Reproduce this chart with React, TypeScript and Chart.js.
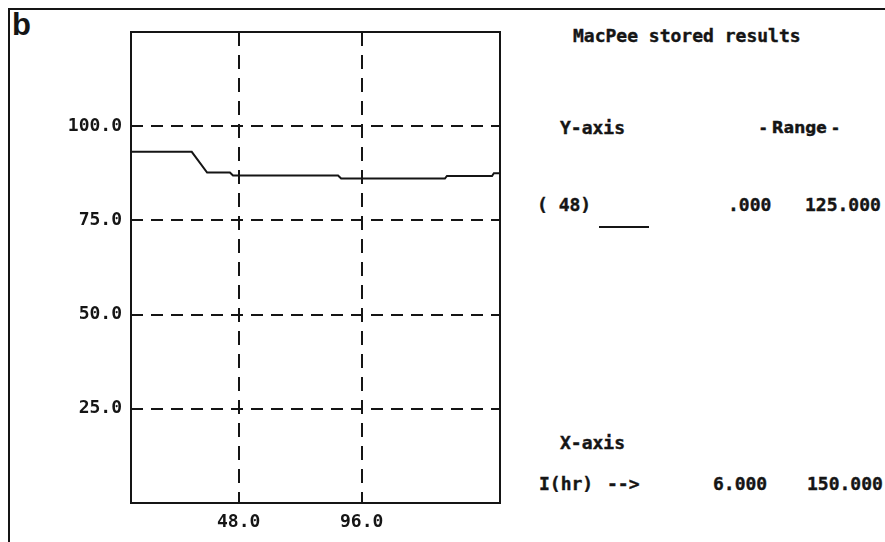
import React, { useEffect, useRef } from "react";
import { Chart, registerables } from "chart.js";

Chart.register(...registerables);

// ---- data ----
const hours = [6, 29.7, 35.7, 44.6, 45.8, 86.8, 88, 128.5, 129.3, 146.9, 147.6, 150];
const values = [93.2, 93.2, 87.7, 87.7, 86.9, 86.9, 86.1, 86.1, 86.8, 86.8, 87.5, 87.5];
const yTicks = [25, 50, 75, 100];
const xTicks = [48, 96];
const yRange = [0, 125];
const xRange = [6, 150];
const yRangeLabels = [".000", "125.000"];
const xRangeLabels = ["6.000", "150.000"];

const INK = "#151515";
const MONO = "'DejaVu Sans Mono', monospace";

const boxPlugin = {
  id: "plotBox",
  afterDraw(chart: any) {
    const { ctx, chartArea: a } = chart;
    ctx.save();
    ctx.setLineDash([]);
    ctx.lineWidth = 2;
    ctx.strokeStyle = INK;
    ctx.strokeRect(a.left, a.top, a.right - a.left, a.bottom - a.top);
    ctx.restore();
  },
};

function PlotCanvas() {
  const ref = useRef<HTMLCanvasElement | null>(null);
  useEffect(() => {
    if (!ref.current) return;
    const chart = new Chart(ref.current, {
      type: "line",
      data: {
        datasets: [
          {
            data: hours.map((h, i) => ({ x: h, y: values[i] })),
            borderColor: INK,
            borderWidth: 2,
            pointRadius: 0,
            tension: 0,
            fill: false,
          },
        ],
      },
      options: {
        animation: false,
        responsive: false,
        devicePixelRatio: 1,
        layout: { padding: { left: 0, top: 32, right: 30, bottom: 0 } },
        plugins: { legend: { display: false }, tooltip: { enabled: false } },
        scales: {
          x: {
            type: "linear",
            min: xRange[0],
            max: xRange[1],
            afterBuildTicks: (s: any) => {
              s.ticks = xTicks.map((v) => ({ value: v }));
            },
            afterFit: (s: any) => {
              s.height = 39;
            },
            ticks: {
              color: INK,
              padding: 9,
              font: { family: MONO, size: 18, weight: "bold" },
              callback: (v: any) => Number(v).toFixed(1),
              maxRotation: 0,
              autoSkip: false,
            },
            grid: { color: INK, lineWidth: 2, drawTicks: false },
            border: { display: false, dash: [14, 9] },
          },
          y: {
            type: "linear",
            min: yRange[0],
            max: yRange[1],
            afterBuildTicks: (s: any) => {
              s.ticks = yTicks.map((v) => ({ value: v }));
            },
            afterFit: (s: any) => {
              s.width = 131;
            },
            ticks: {
              color: INK,
              padding: 9,
              font: { family: MONO, size: 18, weight: "bold" },
              callback: (v: any) => Number(v).toFixed(1),
              autoSkip: false,
            },
            grid: { color: INK, lineWidth: 2, drawTicks: false },
            border: { display: false, dash: [12, 8] },
          },
        },
      },
      plugins: [boxPlugin],
    } as any);
    return () => chart.destroy();
  }, []);
  return (
    <canvas
      ref={ref}
      width={530}
      height={542}
      style={{ position: "absolute", left: 0, top: 0, width: 530, height: 542 }}
    />
  );
}

function T({
  x,
  y,
  children,
  family = MONO,
  size = 18,
}: {
  x: number;
  y: number;
  children: React.ReactNode;
  family?: string;
  size?: number;
}) {
  return (
    <div
      style={{
        position: "absolute",
        left: x,
        top: y - 10,
        height: 20,
        lineHeight: "20px",
        fontFamily: family,
        fontWeight: "bold",
        fontSize: size,
        color: INK,
        whiteSpace: "pre",
        WebkitTextStroke: `0.4px ${INK}`,
      }}
    >
      {children}
    </div>
  );
}

export default function App() {
  return (
    <div
      style={{
        position: "absolute",
        left: 0,
        top: 0,
        width: 885,
        height: 542,
        background: "#fff",
        overflow: "hidden",
      }}
    >
      <div
        style={{
          position: "absolute",
          left: 8,
          top: 8,
          width: 877,
          height: 534,
          borderTop: `2px solid ${INK}`,
          borderLeft: `2px solid ${INK}`,
          boxSizing: "border-box",
        }}
      />
      <div
        style={{
          position: "absolute",
          left: 12,
          top: 9,
          fontFamily: "'Liberation Sans', Arial, sans-serif",
          fontWeight: "bold",
          fontSize: 31,
          lineHeight: "31px",
          color: INK,
        }}
      >
        b
      </div>
      <PlotCanvas />
      <T x={573} y={36}>MacPee stored results</T>
      <T x={560} y={128}>Y-axis</T>
      <T x={760} y={128} family="'DejaVu Sans', sans-serif" size={15.5}>
        - Range -
      </T>
      <T x={537} y={205}>( 48)</T>
      <div
        style={{
          position: "absolute",
          left: 599,
          top: 226,
          width: 50,
          height: 0,
          borderTop: `2px solid ${INK}`,
        }}
      />
      <T x={728} y={205}>{yRangeLabels[0]}</T>
      <T x={805} y={205}>{yRangeLabels[1]}</T>
      <T x={560} y={443}>X-axis</T>
      <T x={539} y={484}>I(hr)</T>
      <T x={607} y={484}>--&gt;</T>
      <T x={713} y={484}>{xRangeLabels[0]}</T>
      <T x={807} y={484}>{xRangeLabels[1]}</T>
    </div>
  );
}
